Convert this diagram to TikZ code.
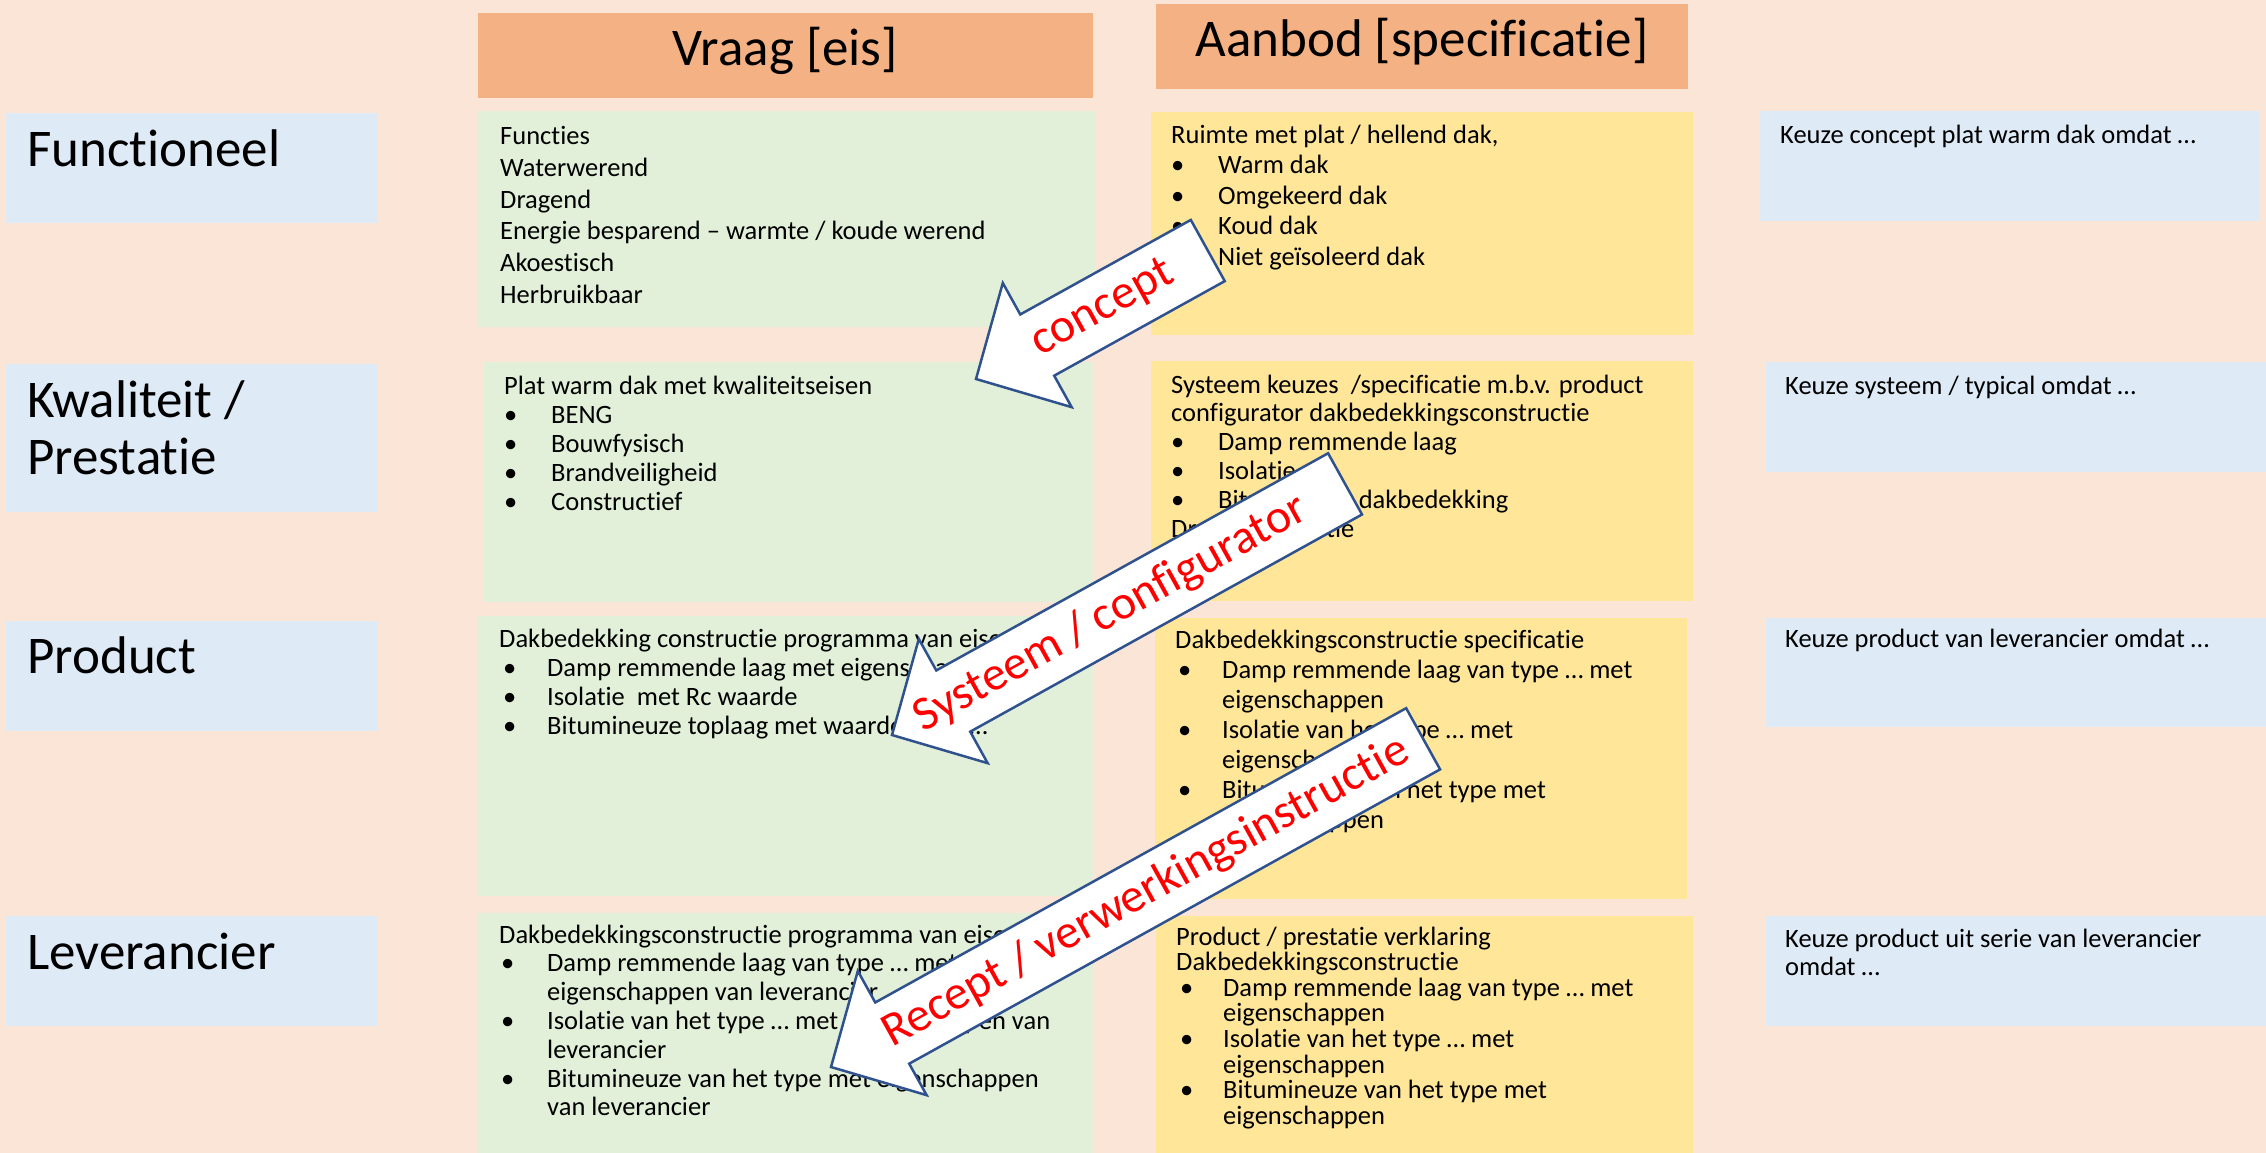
\documentclass[tikz,border=0pt]{standalone}
\usepackage{fontspec}
\setmainfont{Carlito}[Ligatures={NoCommon}]
\definecolor{pagebg}{HTML}{FBE5D6}
\definecolor{headfill}{HTML}{F4B183}
\definecolor{labelfill}{HTML}{DEEBF7}
\definecolor{demandfill}{HTML}{E2F0D9}
\definecolor{supplyfill}{HTML}{FFE699}
\definecolor{arrowedge}{HTML}{2F528F}
\definecolor{arrowtxt}{HTML}{FF0000}

% text lines inside the cells
\newdimen\bulpos \newdimen\bulgap
\newcommand\setbullets[2]{\bulpos=#1pt\relax\bulgap=#2pt\relax}
\newcommand\cellrow[1]{\hbox{#1}}
\newcommand\bulrow[1]{\hbox{\kern\bulpos\hbox to \bulgap{\textbullet\hfil}#1}}
\newcommand\controw[1]{\hbox{\kern\bulpos\kern\bulgap #1}}
\newcommand\textstack[2]{\vtop{\baselineskip=#1pt\lineskiplimit=-1000pt\lineskip=0pt #2}}

\tikzset{
  bodytext/.style={inner sep=0pt, anchor=base west, font=\fontsize{26.5}{30}\selectfont},
  bigtext/.style={inner sep=0pt, font=\fontsize{53}{60}\selectfont},
  blockarrow/.style={draw=arrowedge, line width=2.5pt, fill=white, line join=miter},
  arrowlabel/.style={inner sep=0pt, text=arrowtxt, font=\fontsize{48}{56}\selectfont},
}

\begin{document}
\begin{tikzpicture}[x=1pt,y=-1pt]
\useasboundingbox (0,0) rectangle (2266,1153);
\fill[pagebg] (0,0) rectangle (2266,1153);

% column headers
\fill[headfill] (478,13) rectangle (1093,98);
\fill[headfill] (1156,4) rectangle (1688,89);
\node[bigtext, anchor=base] (hvraag) at (785,66) {Vraag [eis]};
\node[bigtext, anchor=base] (haanbod) at (1422,57) {Aanbod [specificatie]};

% row labels
\fill[labelfill] (6,113) rectangle (378,223);
\fill[labelfill] (6,364) rectangle (378,512);
\fill[labelfill] (6,621) rectangle (378,731);
\fill[labelfill] (6,916) rectangle (378,1026);
\node[bigtext, anchor=base west] (lfunc) at (27,166) {Functioneel};
\node[bigtext, anchor=base west] (lkwal) at (27,417)
  {\textstack{57}{\cellrow{Kwaliteit /}\cellrow{Prestatie}}};
\node[bigtext, anchor=base west] (lprod) at (27,673) {Product};
\node[bigtext, anchor=base west] (lleve) at (27,969) {Leverancier};

% demand column
\fill[demandfill] (478,111) rectangle (1095,327);
\fill[demandfill] (483,362) rectangle (1093,602);
\fill[demandfill] (478,616) rectangle (1093,896);
\fill[demandfill] (478,913) rectangle (1093,1153);

\node[bodytext] (vraag1) at (500,145) {\textstack{31.6}{%
  \cellrow{Functies}
  \cellrow{Waterwerend}
  \cellrow{Dragend}
  \cellrow{Energie besparend – warmte / koude werend}
  \cellrow{Akoestisch}
  \cellrow{Herbruikbaar}}};

\node[bodytext] (vraag2) at (504,394) {\setbullets{0}{47}\textstack{29}{%
  \cellrow{Plat warm dak met kwaliteitseisen}
  \bulrow{BENG}
  \bulrow{Bouwfysisch}
  \bulrow{Brandveiligheid}
  \bulrow{Constructief}}};

\node[bodytext] (vraag3) at (499,647) {\setbullets{4}{44}\textstack{29}{%
  \cellrow{Dakbedekking constructie programma van eisen}
  \bulrow{Damp remmende laag met eigenschappen}
  \bulrow{Isolatie\ \ met Rc waarde}
  \bulrow{Bitumineuze toplaag met waarden\hspace{52pt}…}}};

\node[bodytext] (vraag4) at (499,943) {\setbullets{2}{46}\textstack{28.8}{%
  \cellrow{Dakbedekkingsconstructie programma van eisen}
  \bulrow{Damp remmende laag van type … met}
  \controw{eigenschappen van leverancier}
  \bulrow{Isolatie van het type … met eigenschappen van}
  \controw{leverancier}
  \bulrow{Bitumineuze van het type met eigenschappen}
  \controw{van leverancier}}};

% supply column
\fill[supplyfill] (1151,112) rectangle (1693,335);
\fill[supplyfill] (1151,361) rectangle (1693,601);
\fill[supplyfill] (1155,618) rectangle (1687,899);
\fill[supplyfill] (1156,916) rectangle (1693,1153);

\node[bodytext] (aanbod1) at (1171,143) {\setbullets{0}{47}\textstack{30.5}{%
  \cellrow{Ruimte met plat / hellend dak,}
  \bulrow{Warm dak}
  \bulrow{Omgekeerd dak}
  \bulrow{Koud dak}
  \bulrow{Niet geïsoleerd dak}}};

\node[bodytext] (aanbod2) at (1171,393) {\setbullets{0}{47}\textstack{28.8}{%
  \cellrow{Systeem keuzes\ \ /specificatie m.b.v. product}
  \cellrow{configurator dakbedekkingsconstructie}
  \bulrow{Damp remmende laag}
  \bulrow{Isolatie}
  \bulrow{Bitumineuze dakbedekking}
  \cellrow{Draagconstructie}}};

\node[bodytext] (aanbod3) at (1175,648) {\setbullets{3}{44}\textstack{30}{%
  \cellrow{Dakbedekkingsconstructie specificatie}
  \bulrow{Damp remmende laag van type … met}
  \controw{eigenschappen}
  \bulrow{Isolatie van het type … met}
  \controw{eigenschappen}
  \bulrow{Bitumineuze van het type met}
  \controw{eigenschappen}}};

\node[bodytext] (aanbod4) at (1176,945) {\setbullets{4}{43}\textstack{25.6}{%
  \cellrow{Product / prestatie verklaring}
  \cellrow{Dakbedekkingsconstructie}
  \bulrow{Damp remmende laag van type … met}
  \controw{eigenschappen}
  \bulrow{Isolatie van het type … met}
  \controw{eigenschappen}
  \bulrow{Bitumineuze van het type met}
  \controw{eigenschappen}}};

% choice column
\fill[labelfill] (1760,111) rectangle (2259,221);
\fill[labelfill] (1766,362) rectangle (2266,472);
\fill[labelfill] (1766,618) rectangle (2266,727);
\fill[labelfill] (1766,916) rectangle (2266,1026);
\node[bodytext] (keuze1) at (1780,143) {Keuze concept plat warm dak omdat …};
\node[bodytext] (keuze2) at (1785,394) {Keuze systeem / typical omdat …};
\node[bodytext] (keuze3) at (1785,647) {Keuze product van leverancier omdat …};
\node[bodytext] (keuze4) at (1785,947) {\textstack{28}{%
  \cellrow{Keuze product uit serie van leverancier}
  \cellrow{omdat …}}};

% block arrows from supply back to demand
\begin{scope}[shift={(976,379)}, rotate=29]
  \draw[blockarrow] (0,0) -- (70,-71) -- (70,-35) -- (265,-35) -- (265,35)
    -- (70,35) -- (70,71) -- cycle;
  \node[arrowlabel, rotate=29] (pconcept) at (145,0) {concept};
\end{scope}

\begin{scope}[shift={(892,735)}, rotate=29]
  \draw[blockarrow] (0,0) -- (70,-71) -- (70,-35) -- (518,-35) -- (518,35)
    -- (70,35) -- (70,71) -- cycle;
  \node[arrowlabel, rotate=29] (psysteem) at (250,0) {Systeem / configurator};
\end{scope}

\begin{scope}[shift={(831,1067)}, rotate=29]
  \draw[blockarrow] (0,0) -- (70,-71) -- (70,-35) -- (677,-35) -- (677,35)
    -- (70,35) -- (70,71) -- cycle;
  \node[arrowlabel, rotate=29] (precept) at (360,0) {Recept / verwerkingsinstructie};
\end{scope}
\end{tikzpicture}
\end{document}
